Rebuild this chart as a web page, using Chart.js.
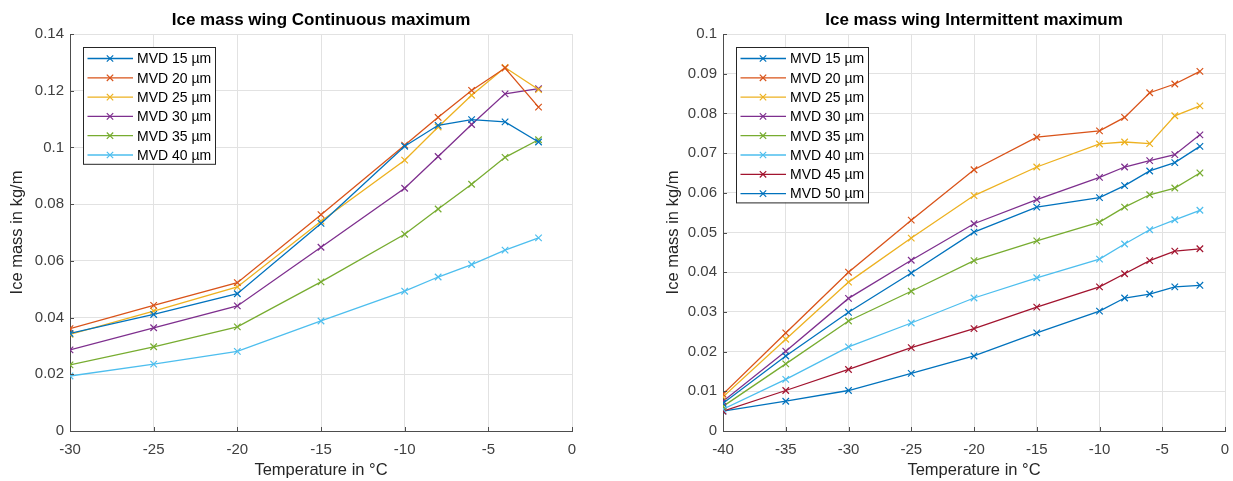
<!DOCTYPE html>
<html>
<head>
<meta charset="utf-8">
<script src="https://cdn.jsdelivr.net/npm/chart.js@4"></script>
<style>
  html, body { margin: 0; padding: 0; background: #fff; }
  #wrap { position: relative; width: 1233px; height: 481px; }
  .box { position: absolute; top: 0; height: 481px; }
  #b1 { left: 0; width: 616px; }
  #b2 { left: 616px; width: 617px; }
</style>
</head>
<body>
<div id="wrap">
  <div class="box" id="b1"><canvas id="c1" width="616" height="481"></canvas></div>
  <div class="box" id="b2"><canvas id="c2" width="617" height="481"></canvas></div>
</div>
<script>
// ---------- DATA ----------
const leftTitle = "Ice mass wing Continuous maximum";
const rightTitle = "Ice mass wing Intermittent maximum";
const xAxisTitle = "Temperature in °C";
const yAxisTitle = "Ice mass in kg/m";

const leftTemps = [-30, -25, -20, -15, -10, -8, -6, -4, -2];
const leftLabels = ["MVD 15 µm", "MVD 20 µm", "MVD 25 µm", "MVD 30 µm", "MVD 35 µm", "MVD 40 µm"];
const leftMVD15 = [0.0344, 0.0411, 0.0484, 0.0732, 0.1004, 0.1078, 0.1098, 0.1090, 0.1019];
const leftMVD20 = [0.0361, 0.0443, 0.0523, 0.0763, 0.1008, 0.1106, 0.1201, 0.1280, 0.1142];
const leftMVD25 = [0.0341, 0.0423, 0.0508, 0.0740, 0.0955, 0.1072, 0.1184, 0.1282, 0.1204];
const leftMVD30 = [0.0286, 0.0364, 0.0441, 0.0648, 0.0856, 0.0968, 0.1081, 0.1189, 0.1207];
const leftMVD35 = [0.0233, 0.0297, 0.0367, 0.0526, 0.0694, 0.0783, 0.0870, 0.0965, 0.1027];
const leftMVD40 = [0.0194, 0.0236, 0.0281, 0.0388, 0.0493, 0.0543, 0.0587, 0.0638, 0.0681];
const leftXTicks = [-30, -25, -20, -15, -10, -5, 0];
const leftYTicks = [0, 0.02, 0.04, 0.06, 0.08, 0.1, 0.12, 0.14];

const rightTemps = [-40, -35, -30, -25, -20, -15, -10, -8, -6, -4, -2];
const rightLabels = ["MVD 15 µm", "MVD 20 µm", "MVD 25 µm", "MVD 30 µm", "MVD 35 µm", "MVD 40 µm", "MVD 45 µm", "MVD 50 µm"];
const rightMVD15 = [0.0070, 0.0189, 0.0299, 0.0398, 0.0501, 0.0564, 0.0588, 0.0618, 0.0655, 0.0676, 0.0717];
const rightMVD20 = [0.0093, 0.0247, 0.0400, 0.0531, 0.0658, 0.0740, 0.0756, 0.0790, 0.0852, 0.0874, 0.0906];
const rightMVD25 = [0.0086, 0.0231, 0.0375, 0.0486, 0.0593, 0.0665, 0.0723, 0.0728, 0.0724, 0.0794, 0.0819];
const rightMVD30 = [0.0075, 0.0201, 0.0334, 0.0430, 0.0522, 0.0583, 0.0639, 0.0665, 0.0681, 0.0696, 0.0746];
const rightMVD35 = [0.0062, 0.0169, 0.0277, 0.0352, 0.0429, 0.0479, 0.0526, 0.0564, 0.0595, 0.0612, 0.0650];
const rightMVD40 = [0.0055, 0.0130, 0.0212, 0.0272, 0.0335, 0.0386, 0.0433, 0.0471, 0.0507, 0.0532, 0.0556];
const rightMVD45 = [0.0050, 0.0102, 0.0155, 0.0210, 0.0258, 0.0312, 0.0363, 0.0396, 0.0429, 0.0453, 0.0459];
const rightMVD50 = [0.0050, 0.0075, 0.0102, 0.0145, 0.0189, 0.0247, 0.0302, 0.0335, 0.0345, 0.0363, 0.0367];
const rightXTicks = [-40, -35, -30, -25, -20, -15, -10, -5, 0];
const rightYTicks = [0, 0.01, 0.02, 0.03, 0.04, 0.05, 0.06, 0.07, 0.08, 0.09, 0.1];

// ---------- STYLE ----------
const colors = ["#0072BD", "#D95319", "#EDB120", "#7E2F8E", "#77AC30", "#4DBEEE", "#A2142F", "#0072BD"];
const FONT = "'Liberation Sans', Arial, Helvetica, sans-serif";
const AXIS_COLOR = "#4d4d4d";
const TEXT_COLOR = "#404040";
const GRID_COLOR = "#e2e2e2";

function makeDatasets(xs, series, labels) {
  return series.map((ys, i) => ({
    label: labels[i],
    data: xs.map((x, j) => ({ x: x, y: ys[j] })),
    borderColor: colors[i],
    backgroundColor: colors[i],
    borderWidth: 1.3,
    pointStyle: 'crossRot',
    pointRadius: 4.6,
    pointBorderWidth: 1.2,
    pointHoverRadius: 4.6,
    tension: 0,
    fill: false
  }));
}

// Title, inward ticks and MATLAB-style legend
const decorPlugin = {
  id: 'decor',
  afterDraw(chart, args, opts) {
    const ctx = chart.ctx;
    const ca = chart.chartArea;
    const xs = chart.scales.x, ys = chart.scales.y;
    ctx.save();
    // inward ticks
    ctx.strokeStyle = AXIS_COLOR;
    ctx.lineWidth = 1;
    ctx.beginPath();
    xs.ticks.forEach(t => {
      const px = Math.round(xs.getPixelForValue(t.value)) + 0.5;
      ctx.moveTo(px, ca.bottom);
      ctx.lineTo(px, ca.bottom - 4);
    });
    ys.ticks.forEach(t => {
      const py = Math.round(ys.getPixelForValue(t.value)) + 0.5;
      ctx.moveTo(ca.left, py);
      ctx.lineTo(ca.left + 4, py);
    });
    ctx.stroke();
    // title
    ctx.fillStyle = '#000';
    ctx.font = "bold 17px " + FONT;
    ctx.textAlign = 'center';
    ctx.textBaseline = 'middle';
    ctx.fillText(opts.title, (ca.left + ca.right) / 2, 20);
    // legend
    const ds = chart.data.datasets;
    const lx = ca.left + 13, ly = ca.top + 13;
    const rowH = 19.3;
    const w = 132, h = ds.length * rowH + 1;
    ctx.fillStyle = '#fff';
    ctx.fillRect(lx, ly, w, h);
    ctx.strokeStyle = '#262626';
    ctx.lineWidth = 1;
    ctx.strokeRect(Math.round(lx) + 0.5, Math.round(ly) + 0.5, w, h);
    ctx.font = "14px " + FONT;
    ctx.textAlign = 'left';
    ds.forEach((d, i) => {
      const cy = ly + 11.5 + i * rowH;
      ctx.strokeStyle = d.borderColor;
      ctx.lineWidth = 1.3;
      ctx.beginPath();
      ctx.moveTo(lx + 4.5, cy);
      ctx.lineTo(lx + 50, cy);
      ctx.stroke();
      const mx = lx + 27, r = 3.2;
      ctx.lineWidth = 1.2;
      ctx.beginPath();
      ctx.moveTo(mx - r, cy - r); ctx.lineTo(mx + r, cy + r);
      ctx.moveTo(mx - r, cy + r); ctx.lineTo(mx + r, cy - r);
      ctx.stroke();
      ctx.fillStyle = '#000';
      ctx.fillText(d.label, lx + 54, cy + 1);
    });
    ctx.restore();
  }
};

function makeChart(canvasId, xs, series, labels, xTicks, yTicks, cfg) {
  const xMin = xTicks[0], xMax = xTicks[xTicks.length - 1];
  const yMin = yTicks[0], yMax = yTicks[yTicks.length - 1];
  return new Chart(document.getElementById(canvasId), {
    type: 'line',
    data: { datasets: makeDatasets(xs, series, labels) },
    plugins: [decorPlugin],
    options: {
      responsive: false,
      animation: false,
      events: [],
      layout: { padding: { left: cfg.padLeft, right: cfg.padRight, top: 34, bottom: 1 } },
      plugins: {
        legend: { display: false },
        title: { display: false },
        tooltip: { enabled: false },
        decor: { title: cfg.title }
      },
      scales: {
        x: {
          type: 'linear',
          min: xMin, max: xMax,
          afterBuildTicks: s => { s.ticks = xTicks.map(v => ({ value: v })); },
          afterFit: s => { s.height = 49; s.paddingLeft = 0; s.paddingRight = 0; },
          ticks: { color: TEXT_COLOR, font: { family: FONT, size: 15 }, padding: 10, maxRotation: 0,
                   callback: v => String(v) },
          grid: { color: GRID_COLOR, lineWidth: 1, drawTicks: false },
          border: { color: AXIS_COLOR, width: 1 },
          title: { display: true, text: xAxisTitle, color: '#262626', font: { family: FONT, size: 16.5 }, padding: 0 }
        },
        y: {
          type: 'linear',
          min: yMin, max: yMax,
          afterBuildTicks: s => { s.ticks = yTicks.map(v => ({ value: v })); },
          afterFit: s => { s.width = cfg.yWidth; s.paddingTop = 0; s.paddingBottom = 0; },
          ticks: { color: TEXT_COLOR, font: { family: FONT, size: 15 }, padding: 6,
                   callback: v => String(v) },
          grid: { color: GRID_COLOR, lineWidth: 1, drawTicks: false },
          border: { color: AXIS_COLOR, width: 1 },
          title: { display: true, text: yAxisTitle, color: '#262626', font: { family: FONT, size: 16.5 }, padding: 0 }
        }
      }
    }
  });
}

makeChart('c1', leftTemps,
  [leftMVD15, leftMVD20, leftMVD25, leftMVD30, leftMVD35, leftMVD40],
  leftLabels, leftXTicks, leftYTicks,
  { title: leftTitle, padLeft: 8, yWidth: 62, padRight: 44 });

makeChart('c2', rightTemps,
  [rightMVD15, rightMVD20, rightMVD25, rightMVD30, rightMVD35, rightMVD40, rightMVD45, rightMVD50],
  rightLabels, rightXTicks, rightYTicks,
  { title: rightTitle, padLeft: 48, yWidth: 59, padRight: 8 });
</script>
</body>
</html>
